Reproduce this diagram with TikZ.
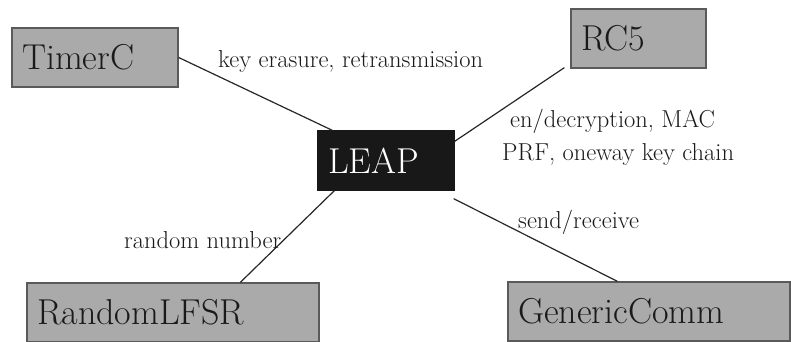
\documentclass[tikz,border=0pt]{standalone}
\usepackage{fontspec}
\usetikzlibrary{calc}
\definecolor{boxfill}{HTML}{AAAAAA}
\definecolor{boxline}{HTML}{5A5A5A}
\definecolor{txt}{HTML}{1A1A1A}
\definecolor{leapfill}{HTML}{181818}
\tikzset{
  comp/.style={draw=boxline, line width=1.3pt, fill=boxfill, text=txt,
    font=\fontsize{36}{40}\selectfont, minimum height=59pt, inner xsep=10pt,
    inner ysep=0pt, align=left},
  leapbox/.style={comp, fill=leapfill, draw=leapfill, text=white},
  lbl/.style={font=\fontsize{24.5}{26}\selectfont, text=txt, inner sep=0pt, anchor=base west},
  conn/.style={draw=black!85, line width=1.2pt}
}
\begin{document}
\begin{tikzpicture}[x=1pt,y=-1pt]
\useasboundingbox (0,0) rectangle (791,342);
\node[comp, text width=146pt] (timer) at (95,57.5) {TimerC};
\node[comp, text width=115pt] (rc5) at (638.5,38.5) {RC5};
\node[leapbox, text width=116pt] (leap) at (386,160.5) {LEAP};
\node[comp, text width=272pt] (rand) at (173,312.5) {RandomLFSR};
\node[comp, text width=262pt] (gen) at (649,311.5) {GenericComm};

\draw[conn] (timer.east) -- ($(leap.north west)+(15,0)$);
\draw[conn] ($(rc5.south west)+(-6,-1)$) -- ($(leap.north east)+(0,11)$);
\draw[conn] ($(rand.north west)+(214,0)$) -- ($(leap.south west)+(17,0)$);
\draw[conn] ($(leap.south east)+(-1,8)$) -- ($(gen.north west)+(110,0)$);

\node[lbl] (l1) at (218,68) {key erasure, retransmission};
\node[lbl] (l2) at (510,127) {en/decryption, MAC};
\node[lbl] (l3) at (502,160) {PRF, oneway key chain};
\node[lbl] (l4) at (124,248) {random number};
\node[lbl] (l5) at (518,228) {send/receive};
\end{tikzpicture}
\end{document}
